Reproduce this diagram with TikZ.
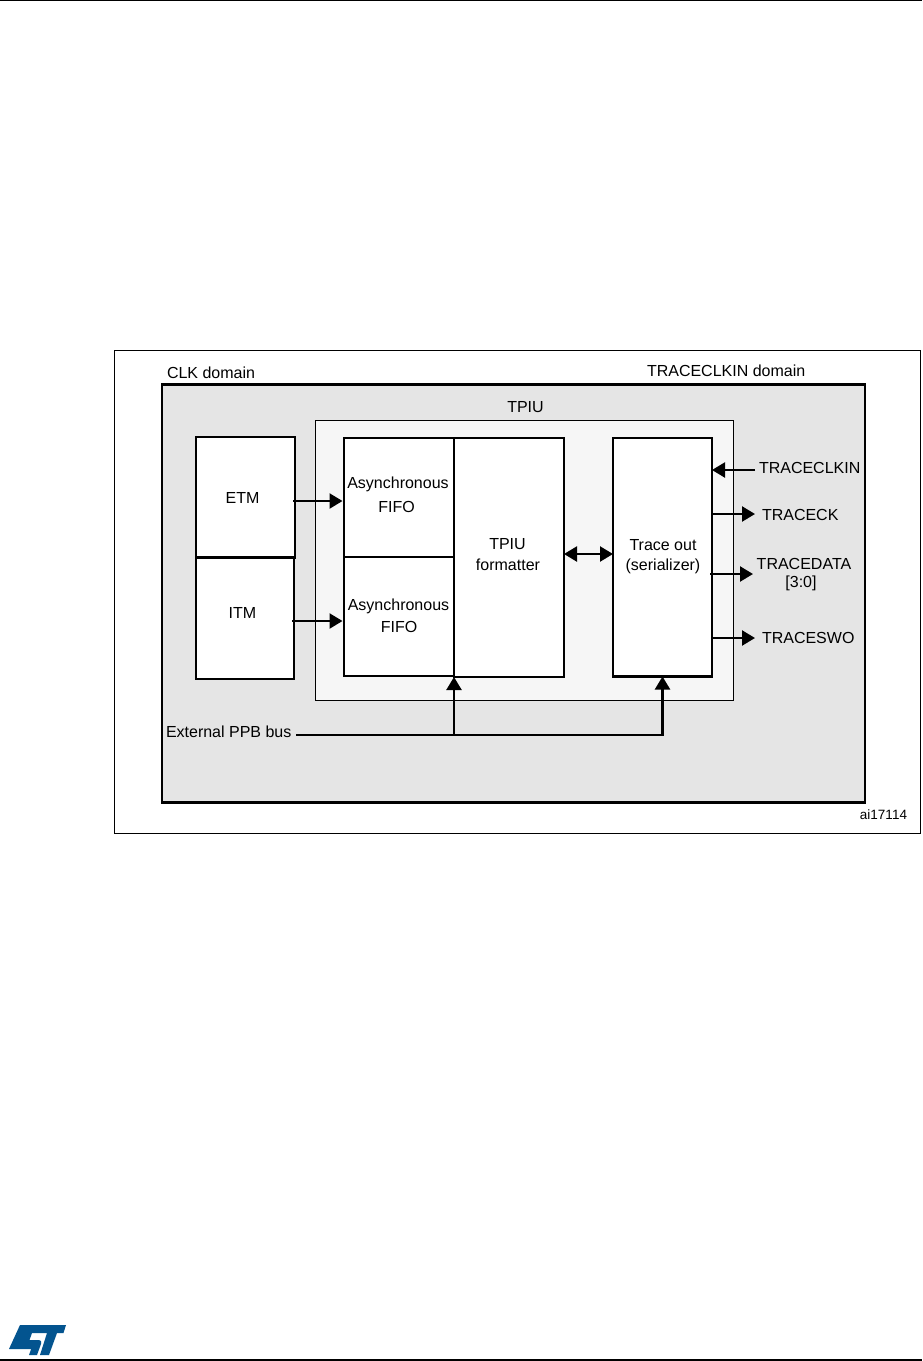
\documentclass[tikz,border=0pt]{standalone}
\usepackage{fontspec}
\setmainfont{Liberation Sans}
\usetikzlibrary{arrows.meta}
\definecolor{domainfill}{gray}{0.898}
\definecolor{tpiufill}{gray}{0.965}
\definecolor{stblue}{HTML}{03548F}
\tikzset{
  every node/.style={inner sep=0pt,outer sep=0pt},
  lbl/.style={font=\fontsize{16}{20}\selectfont,align=center,text=black},
  blockbox/.style={draw=black,line width=2.2pt,fill=white},
  link/.style={draw=black,line width=2.3pt,-{Triangle[length=13pt,width=15pt]}},
  linkboth/.style={draw=black,line width=2.3pt,{Triangle[length=13pt,width=15pt]}-{Triangle[length=13pt,width=15pt]}},
  plain/.style={draw=black,line width=2.3pt},
}
\begin{document}
\begin{tikzpicture}[x=1pt,y=-1pt]
\useasboundingbox (0,0) rectangle (922,1361);
\fill[white] (0,0) rectangle (922,1361);
% page rules
\draw[line width=1.2pt] (0,0.5) -- (922,0.5);
\draw[line width=1.6pt] (0,1360) -- (922,1360);
% frame
\draw[line width=1pt] (114.5,350.5) rectangle (920,833.5);
\draw[draw=black,line width=2.4pt,fill=domainfill] (162,384.5) rectangle (865,802.5);
\draw[draw=black,line width=1pt,fill=tpiufill] (315.5,420.5) rectangle (733.5,700);
% blocks
\node[blockbox,minimum width=99pt,minimum height=120.5pt,anchor=north west] (etm) at (196,437) {};
\node[blockbox,minimum width=98pt,minimum height=121pt,anchor=north west] (itm) at (196,558) {};
\node[blockbox,minimum width=110pt,minimum height=119pt,anchor=north west] (fifoa) at (344,438) {};
\node[blockbox,minimum width=110pt,minimum height=119pt,anchor=north west] (fifob) at (344,557) {};
\node[blockbox,minimum width=110pt,minimum height=239pt,anchor=north west] (fmt) at (454,438) {};
\node[blockbox,minimum width=99pt,minimum height=238.5pt,anchor=north west] (trace) at (613,438) {};
% texts
\node[lbl,anchor=west] (clk) at (167,372.5) {CLK domain};
\node[lbl,anchor=west] (tck) at (647,370.5) {TRACECLKIN domain};
\node[lbl] (tpiu) at (525.5,407) {TPIU};
\node[lbl] (etmt) at (242.5,497.5) {ETM};
\node[lbl] (itmt) at (242.5,612.5) {ITM};
\node[lbl] (f1a) at (398,484) {Asynchronous};
\node[lbl] (f1b) at (396.5,507) {FIFO};
\node[lbl] (f2a) at (398.5,606) {Asynchronous};
\node[lbl] (f2b) at (399,627) {FIFO};
\node[lbl] (fmt1) at (507.5,544.5) {TPIU};
\node[lbl] (fmt2) at (508,564.5) {formatter};
\node[lbl] (tr1) at (663,545) {Trace out};
\node[lbl] (tr2) at (663,566) {(serializer)};
\coordinate (ckin) at (755,470);
\coordinate (cktrace) at (755,514);
\coordinate (cdata) at (753,574);
\coordinate (cswo) at (755,638);
\node[lbl,anchor=west] (lclkin) at (759,467.5) {TRACECLKIN};
\node[lbl,anchor=west] (lck) at (762,515) {TRACECK};
\node[lbl] (ldata) at (804,563.5) {TRACEDATA};
\node[lbl] (ldatb) at (801,583.5) {[3:0]};
\node[lbl,anchor=west] (lswo) at (762,638) {TRACESWO};
\node[lbl,anchor=west] (lppb) at (166,731.5) {External PPB bus};
\node[font=\fontsize{13.5}{15}\selectfont,text=black] (aid) at (883.5,815) {ai17114};
% connectors
\coordinate (ea) at (293,501);
\coordinate (eb) at (342.5,501);
\coordinate (ia) at (292,621);
\coordinate (ib) at (342.5,621);
\draw[link] (ea) -- (eb);
\draw[link] (ia) -- (ib);
\draw[linkboth] (fmt.east |- 0,554) -- (trace.west |- 0,554);
\draw[link] (ckin) -- (trace.east |- ckin);
\draw[link] (trace.east |- cktrace) -- (cktrace);
\coordinate (dstart) at (710,574);
\draw[link] (dstart) -- (cdata);
\draw[link] (trace.east |- cswo) -- (cswo);
\coordinate (busa) at (296,735);
\coordinate (busb) at (454,735);
\draw[link] (busb) -- (fmt.south west);
\draw[plain] (busa) -- (busb);
\draw[link] (busb) -| (trace.south);
% logo
\fill[stblue] (20,1325) -- (66,1325) -- (63.5,1333) -- (57,1333) -- (49,1355) -- (40,1355)
  -- (47,1333) -- (32,1333) -- (29.5,1340) -- (38,1340)
  .. controls (41,1340) and (42,1342) .. (41,1344)
  -- (37,1355) -- (29,1355) -- (31.2,1349) -- (9,1349) -- cycle;
\end{tikzpicture}
\end{document}
